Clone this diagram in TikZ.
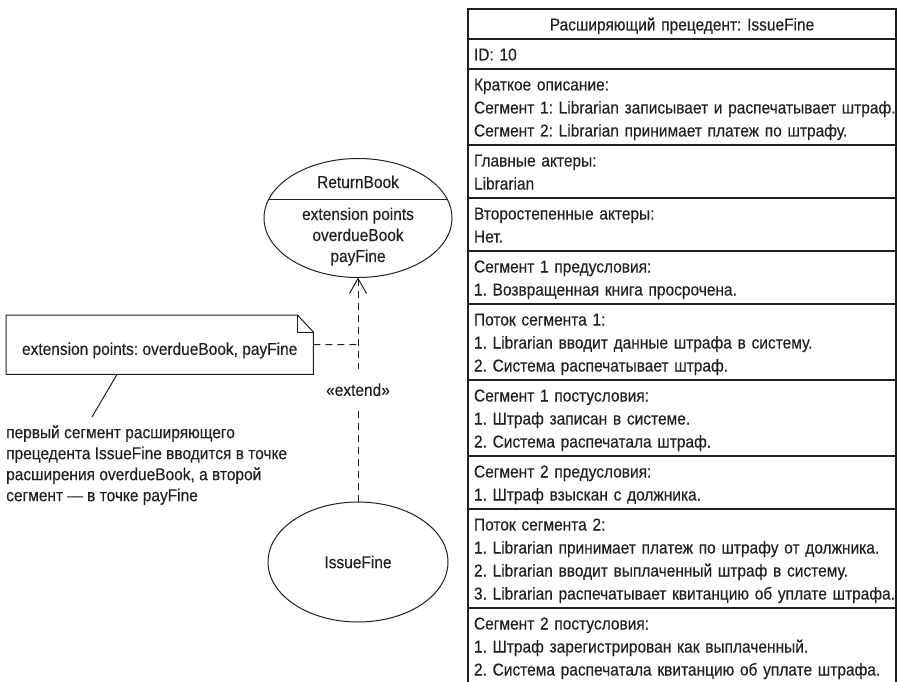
\documentclass[tikz,border=0pt]{standalone}
\usepackage{fontspec}
\setmainfont{Liberation Sans}[FakeStretch=0.9,FakeBold=0.25]
\usetikzlibrary{shapes.geometric,arrows.meta}
\definecolor{ink}{HTML}{231F20}
\newcommand\rl[1]{\mbox{\rule[-5pt]{0pt}{23pt}#1}}
\newcommand\al[1]{\mbox{\rule[-5.5pt]{0pt}{21pt}#1}}
\frenchspacing
\begin{document}
\frenchspacing
\begin{tikzpicture}[x=1pt,y=-1pt,
  every node/.style={text=ink, font=\fontsize{17.2}{21}\selectfont\frenchspacing},
  tabrow/.style={draw=ink, line width=1.1pt, anchor=north west, text width=416pt,
    inner xsep=6pt, inner ysep=3.5pt, align=left, outer sep=0pt,
    font=\fontsize{17.2}{23}\selectfont\frenchspacing},
  usecase/.style={ellipse, draw=ink, line width=1pt, inner sep=0pt, outer sep=0pt},
  plainline/.style={draw=ink, line width=1pt},
  dashline/.style={draw=ink, line width=1pt, dash pattern=on 7pt off 5pt},
  lbl/.style={anchor=base, inner sep=0pt}
]
\useasboundingbox (0,0) rectangle (904,682);

% ---------- use cases ----------
\node[usecase, minimum width=188pt, minimum height=119pt] (rb) at (358,218) {};
\coordinate (s1) at (268.9,199);
\coordinate (s2) at (447.1,199);
\draw[plainline] (s1) -- (s2);
\node[lbl] (rbname) at (358,188) {ReturnBook};
\node[lbl] (rbep) at (358,220) {extension points};
\node[lbl] (rbob) at (358,241) {overdueBook};
\node[lbl] (rbpf) at (358,262) {payFine};

\node[usecase, minimum width=180pt, minimum height=120pt] (if) at (358,562) {IssueFine};

\draw[dashline, -{Straight Barb[length=15pt,width=17pt]}] (if) -- (rb)
  node[midway, fill=white, inner xsep=2pt, inner ysep=14pt] (ext) {«extend»};

% ---------- note ----------
\node[anchor=north west, minimum width=307pt, minimum height=59pt, inner sep=0pt,
      text height=24pt, text depth=3.6pt] (note) at (6,315) {extension points: overdueBook, payFine};
\draw[plainline] (note.north west) -- ([xshift=-16pt]note.north east)
  -- ([yshift=-17pt]note.north east) -- (note.south east) -- (note.south west) -- cycle;
\draw[plainline] ([xshift=-16pt]note.north east) -- ([xshift=-16pt,yshift=-17pt]note.north east)
  -- ([yshift=-17pt]note.north east);
\coordinate (nj) at (358,344.5);
\draw[dashline] (note.east) -- (nj);

\node[anchor=north west, inner sep=0pt, align=left] (ann) at (6,422.5)
  {\al{первый сегмент расширяющего}\\
   \al{прецедента IssueFine вводится в точке}\\
   \al{расширения overdueBook, а второй}\\
   \al{сегмент — в точке payFine}};
\draw[plainline] ([xshift=111pt]note.south west) -- ([xshift=86pt,yshift=5.5pt]ann.north west);

% ---------- table ----------
\node[tabrow, align=center] (t1) at (468,9) {\rl{Расширяющий прецедент: IssueFine}};
\node[tabrow] (t2) at (t1.south west) {\rl{ID: 10}};
\node[tabrow] (t3) at (t2.south west) {\rl{Краткое описание:}\\
  \rl{Сегмент 1: Librarian записывает и распечатывает штраф.}\\
  \rl{Сегмент 2: Librarian принимает платеж по штрафу.}};
\node[tabrow] (t4) at (t3.south west) {\rl{Главные актеры:}\\ \rl{Librarian}};
\node[tabrow] (t5) at (t4.south west) {\rl{Второстепенные актеры:}\\ \rl{Нет.}};
\node[tabrow] (t6) at (t5.south west) {\rl{Сегмент 1 предусловия:}\\
  \rl{1. Возвращенная книга просрочена.}};
\node[tabrow] (t7) at (t6.south west) {\rl{Поток сегмента 1:}\\
  \rl{1. Librarian вводит данные штрафа в систему.}\\
  \rl{2. Система распечатывает штраф.}};
\node[tabrow] (t8) at (t7.south west) {\rl{Сегмент 1 постусловия:}\\
  \rl{1. Штраф записан в системе.}\\
  \rl{2. Система распечатала штраф.}};
\node[tabrow] (t9) at (t8.south west) {\rl{Сегмент 2 предусловия:}\\
  \rl{1. Штраф взыскан с должника.}};
\node[tabrow] (t10) at (t9.south west) {\rl{Поток сегмента 2:}\\
  \rl{1. Librarian принимает платеж по штрафу от должника.}\\
  \rl{2. Librarian вводит выплаченный штраф в систему.}\\
  \rl{3. Librarian распечатывает квитанцию об уплате штрафа.}};
\node[tabrow] (t11) at (t10.south west) {\rl{Сегмент 2 постусловия:}\\
  \rl{1. Штраф зарегистрирован как выплаченный.}\\
  \rl{2. Система распечатала квитанцию об уплате штрафа.}};
\end{tikzpicture}
\end{document}
